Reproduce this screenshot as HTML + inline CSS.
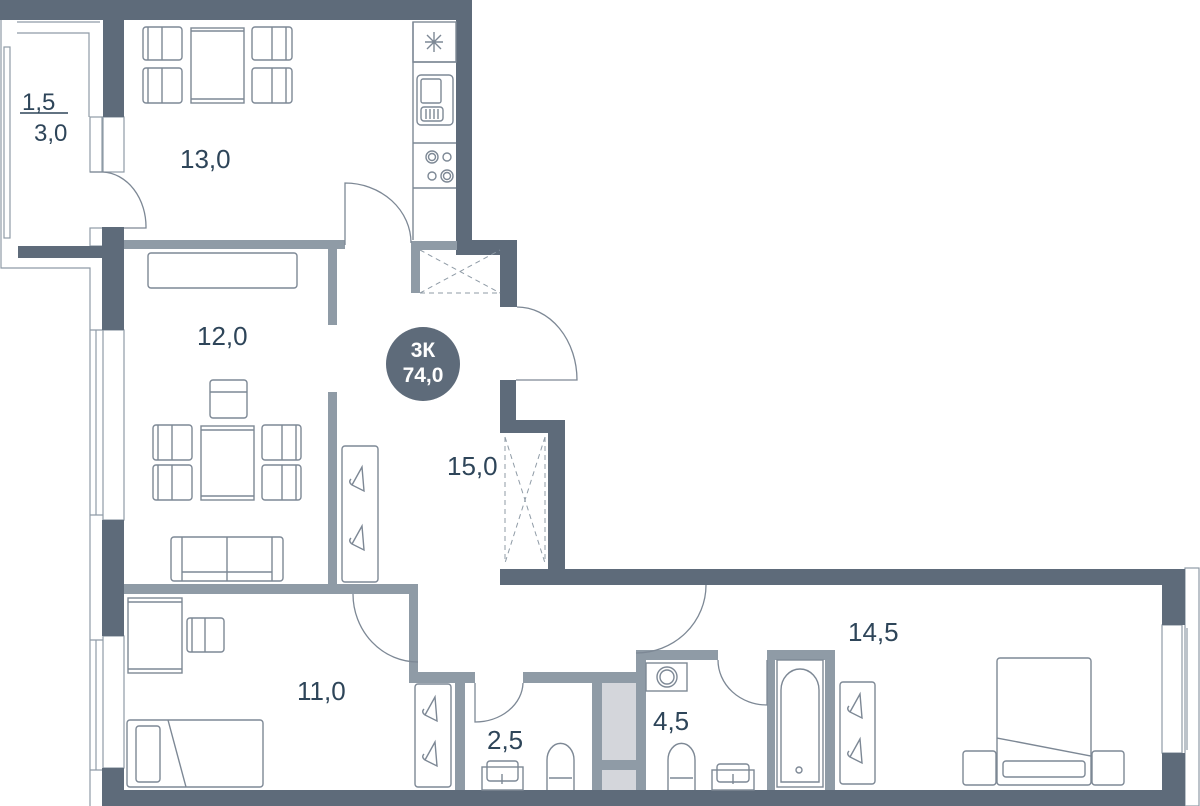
<!DOCTYPE html>
<html><head><meta charset="utf-8"><style>
html,body{margin:0;padding:0;background:#fff;width:1200px;height:806px;overflow:hidden}
svg{display:block}
text{font-family:"Liberation Sans",sans-serif;fill:#2e4559}
</style></head><body>
<svg width="1200" height="806" viewBox="0 0 1200 806" xmlns="http://www.w3.org/2000/svg">
<defs>
<g id="hanger" fill="none" stroke="#7d8895" stroke-width="1.4">
<path d="M14 0 L4 18 L16 24 Z M4 18 q-4 -3 -1 -6"/>
</g>
</defs>
<!-- outer frame lines -->
<g fill="none" stroke="#8f9ba6" stroke-width="1.2">
<path d="M1 20 V268 H90 V806"/>
<path d="M17 22 H100 M17 33 H89 V117"/>
<rect x="4" y="47" width="6" height="191"/>
<rect x="90" y="117" width="12" height="55"/><rect x="103" y="117" width="21" height="55"/>
<rect x="90" y="228" width="13" height="18"/>
<path d="M96 330 V515 M96 640 V770 M90 330 H103 M90 515 H103 M90 640 H103 M90 770 H103"/>
<rect x="103" y="330" width="21" height="190"/><rect x="103" y="636" width="21" height="132"/>
<rect x="1185" y="568" width="14" height="238"/>
<rect x="1162" y="625" width="20" height="128"/>
<path d="M1187 628 V750"/>
</g>
<!-- dark outer walls -->
<g fill="#5e6b7a">
<rect x="0" y="0" width="470" height="20"/>
<rect x="0" y="0" width="3" height="20"/>
<rect x="103" y="0" width="21" height="117"/>
<rect x="18" y="246" width="85" height="12"/>
<rect x="102" y="227" width="22" height="103"/>
<rect x="102" y="520" width="22" height="116"/>
<rect x="102" y="768" width="22" height="38"/>
<rect x="456" y="0" width="16" height="250"/>
<rect x="456" y="240" width="61" height="15"/>
<rect x="500" y="240" width="17" height="67"/>
<rect x="500" y="380" width="16" height="53"/>
<rect x="500" y="420" width="65" height="13"/>
<rect x="548" y="420" width="17" height="163"/>
<rect x="500" y="569" width="685" height="16"/>
<rect x="1162" y="569" width="23" height="56"/>
<rect x="1162" y="753" width="23" height="53"/>
<rect x="102" y="790" width="1083" height="16"/>
</g>
<!-- light inner walls -->
<g fill="#8f9ba6">
<rect x="124" y="240" width="221" height="9"/>
<rect x="328" y="240" width="9" height="85"/>
<rect x="328" y="392" width="9" height="198"/>
<rect x="124" y="584" width="294" height="10"/>
<rect x="409" y="584" width="9" height="88"/>
<rect x="411" y="241" width="46" height="9"/>
<rect x="411" y="241" width="9" height="52"/>
<rect x="409" y="672" width="66" height="11"/>
<rect x="523" y="672" width="113" height="11"/>
<rect x="455" y="672" width="10" height="118"/>
<rect x="592" y="672" width="10" height="118"/>
<rect x="636" y="650" width="10" height="140"/>
<rect x="636" y="650" width="82" height="10"/>
<rect x="767" y="650" width="68" height="10"/>
<rect x="767" y="650" width="8" height="140"/>
<rect x="825" y="650" width="10" height="140"/>
</g>
<rect x="602" y="683" width="34" height="77" fill="#d4d6db"/>
<rect x="602" y="770" width="34" height="20" fill="#d4d6db"/>
<rect x="602" y="760" width="34" height="10" fill="#8f9ba6"/>
<!-- doors -->
<g fill="none" stroke="#7d8895" stroke-width="1.3">
<path d="M90 172 H103 A45 55 0 0 1 146 228 H124"/>
<path d="M345 245 V183 A66 60 0 0 1 411 243"/>
<path d="M517 307 A60 73 0 0 1 577 380 H516"/>
<path d="M353 594 A65 68 0 0 0 418 662"/>
<path d="M475 683 V722 A48 40 0 0 0 523 683"/>
<path d="M706 585 A70 68 0 0 1 636 653"/>
<path d="M718 660 A49 45 0 0 0 767 705 V660"/>
</g>
<!-- dashed vent boxes -->
<g fill="none" stroke="#8f9ba6" stroke-width="1" stroke-dasharray="5,4">
<path d="M420 250 L500 293 M420 293 L500 250 M420 293 H500"/>
<path d="M505 437 V563 M545 437 V563 M505 437 L545 563 M545 437 L505 563"/>
</g>
<!-- furniture -->
<g fill="none" stroke="#7d8895" stroke-width="1.4">
<!-- kitchen -->
<rect x="143" y="27" width="39" height="33" rx="3"/><path d="M162 27 V60 M148 27 V60"/>
<rect x="143" y="68" width="39" height="35" rx="3"/><path d="M162 68 V103 M148 68 V103"/>
<rect x="252" y="27" width="40" height="33" rx="3"/><path d="M272 27 V60 M286 27 V60"/>
<rect x="252" y="68" width="40" height="35" rx="3"/><path d="M272 68 V103 M286 68 V103"/>
<rect x="191" y="28" width="53" height="75"/><path d="M191 31 H244 M191 99 H244"/>
<path d="M413 22 V240 M413 62 H456 M413 143 H456 M413 188 H456"/>
<rect x="413" y="22" width="43" height="40"/>
<rect x="417" y="75" width="36" height="50" rx="4"/><rect x="421" y="79" width="20" height="24" rx="2"/>
<rect x="421" y="107" width="22" height="14" rx="3"/><path d="M426 109 V119 M430 109 V119 M434 109 V119 M438 109 V119"/>
<circle cx="432" cy="157" r="6"/><circle cx="432" cy="157" r="3.5"/><circle cx="447" cy="157" r="4"/>
<circle cx="432" cy="176" r="4"/><circle cx="447" cy="176" r="6"/><circle cx="447" cy="176" r="3.5"/>
<path d="M434 32 V52 M425 42 H443 M427 35 L441 49 M441 35 L427 49"/>
<!-- living -->
<rect x="148" y="253" width="149" height="35" rx="3"/>
<rect x="210" y="380" width="37" height="38" rx="3"/><path d="M210 392 H247"/>
<rect x="201" y="426" width="53" height="74"/><path d="M201 430 H254 M201 496 H254"/>
<rect x="153" y="425" width="39" height="35" rx="3"/><path d="M172 425 V460 M158 425 V460"/>
<rect x="153" y="465" width="39" height="35" rx="3"/><path d="M172 465 V500 M158 465 V500"/>
<rect x="262" y="425" width="39" height="35" rx="3"/><path d="M282 425 V460 M296 425 V460"/>
<rect x="262" y="465" width="39" height="35" rx="3"/><path d="M282 465 V500 M296 465 V500"/>
<rect x="171" y="537" width="112" height="44" rx="3"/><path d="M182 537 V581 M272 537 V581 M227 537 V581 M182 572 H272"/>
<rect x="342" y="446" width="36" height="136" rx="3"/>
<!-- bedroom 11 -->
<rect x="128" y="598" width="54" height="75"/><path d="M128 602 H182 M128 669 H182"/>
<rect x="187" y="618" width="37" height="34" rx="3"/><path d="M205 618 V652 M192 618 V652"/>
<rect x="127" y="720" width="136" height="67" rx="3"/><rect x="136" y="726" width="24" height="56" rx="3"/>
<path d="M168 720 L186 787"/>
<!-- corridor wardrobe & baths -->
<rect x="415" y="684" width="36" height="103" rx="3"/>
<rect x="482" y="767" width="41" height="23"/><rect x="487" y="761" width="31" height="20" rx="3"/><path d="M502 774 V784"/>
<path d="M547 790 V760 A13 16 0 0 1 574 760 V790 M549 778 H572"/>
<rect x="646" y="663" width="41" height="28"/><circle cx="667" cy="677" r="10"/><circle cx="667" cy="677" r="7"/>
<path d="M668 790 V760 A13 16 0 0 1 695 760 V790 M670 778 H693"/>
<rect x="712" y="770" width="42" height="20"/><rect x="717" y="764" width="32" height="18" rx="3"/><path d="M733 774 V784"/>
<rect x="777" y="660" width="46" height="127"/><path d="M781 782 V690 A19 21 0 0 1 819 690 V782 Z"/>
<circle cx="799" cy="770" r="3"/>
<!-- bedroom 14.5 -->
<rect x="840" y="682" width="35" height="102" rx="3"/>
<rect x="997" y="658" width="94" height="127" rx="3"/>
<path d="M997 738 L1091 756"/>
<rect x="1003" y="761" width="82" height="16" rx="3"/>
<rect x="963" y="751" width="33" height="34" rx="3"/><rect x="1092" y="751" width="32" height="34" rx="3"/>
</g>
<use href="#hanger" x="348" y="467"/><use href="#hanger" x="348" y="526"/>
<use href="#hanger" x="421" y="697"/><use href="#hanger" x="421" y="742"/>
<use href="#hanger" x="846" y="694"/><use href="#hanger" x="846" y="739"/>
<!-- labels -->
<g font-size="26">
<text x="22" y="110" font-size="24">1,5</text>
<text x="34" y="141" font-size="24">3,0</text>
<text x="180" y="168">13,0</text>
<text x="197" y="345">12,0</text>
<text x="447" y="475">15,0</text>
<text x="297" y="700">11,0</text>
<text x="487" y="749">2,5</text>
<text x="653" y="730">4,5</text>
<text x="848" y="641">14,5</text>
</g>
<path d="M20 113 H68" stroke="#2e4559" stroke-width="1.5"/>
<circle cx="423" cy="364" r="37" fill="#5e6b7a"/>
<text x="423" y="357" text-anchor="middle" font-size="21" font-weight="bold" style="fill:#fff">3К</text>
<text x="423" y="382" text-anchor="middle" font-size="21" font-weight="bold" style="fill:#fff">74,0</text>
</svg>
</body></html>
